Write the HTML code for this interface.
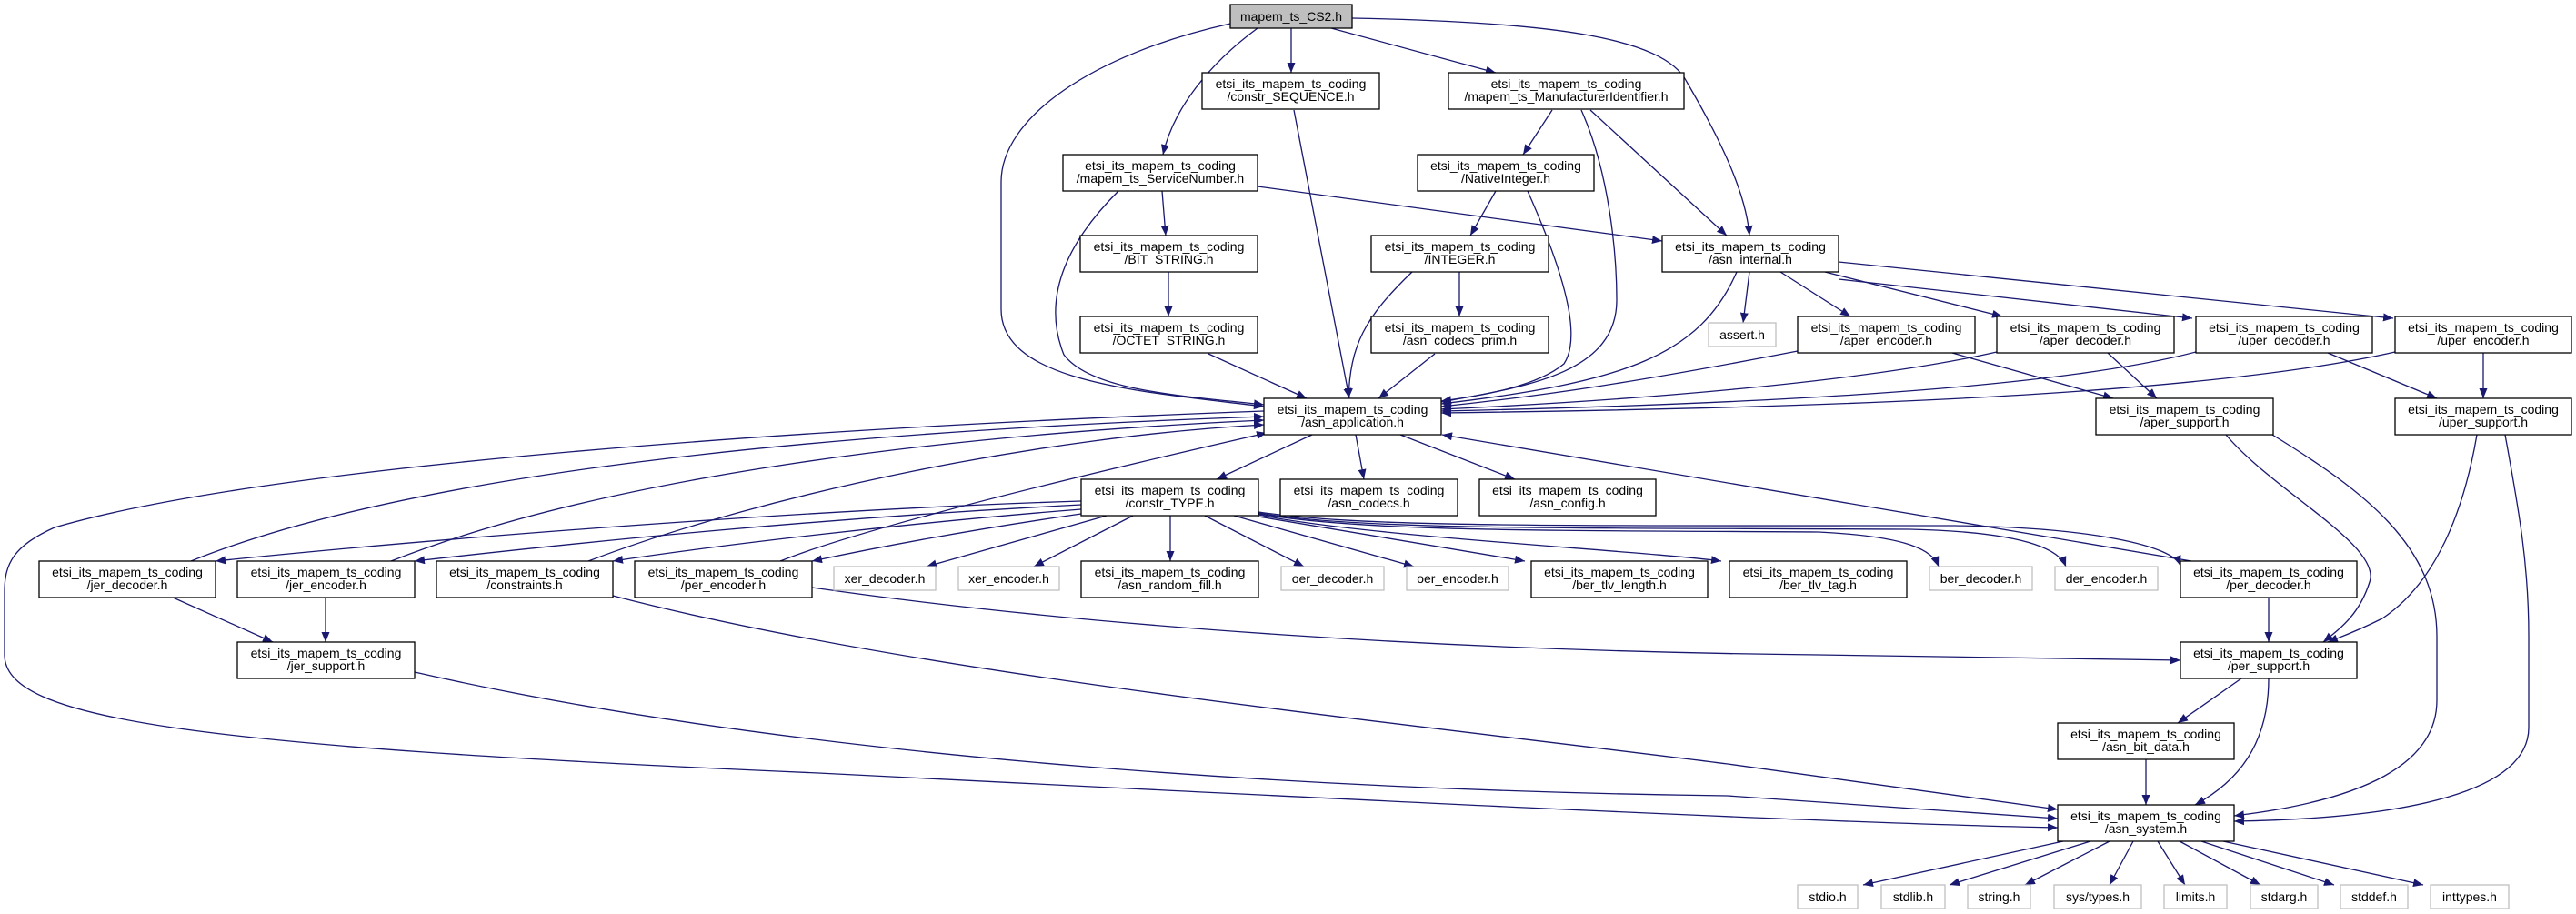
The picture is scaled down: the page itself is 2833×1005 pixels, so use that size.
<!DOCTYPE html>
<html><head><meta charset="utf-8"><style>
html,body{margin:0;padding:0;background:#fff;}
svg{display:block;}
text{font-family:"Liberation Sans",sans-serif;font-size:14px;fill:#000;text-anchor:middle;}
.n{fill:#fff;stroke:#000;stroke-width:1.3;}
.g{fill:#fff;stroke:#c0c0c0;stroke-width:1.3;}
.e{fill:none;stroke:#191970;stroke-width:1.3;marker-end:url(#a);}
</style></head><body>
<svg width="2833" height="1005" viewBox="0 0 2833 1005" xmlns="http://www.w3.org/2000/svg">
<defs><marker id="a" markerUnits="userSpaceOnUse" markerWidth="12" markerHeight="9" refX="11" refY="4.5" orient="auto"><path d="M0,0 L11,4.5 L0,9 z" fill="#191970"/></marker></defs>
<g>
<path class="e" d="M1420,31 L1420,80"/>
<path class="e" d="M1383,31 C1330,70 1290,120 1279,170"/>
<path class="e" d="M1464,31 L1645,80"/>
<path class="e" d="M1487,20 C1700,24 1830,40 1855,90 C1890,150 1920,210 1924,259"/>
<path class="e" d="M1353,26 C1200,60 1101,130 1101,200 L1101,340 C1101,420 1250,430 1390,447"/>
<path class="e" d="M1423,121 L1484,438"/>
<path class="e" d="M1278,210 L1282,259"/>
<path class="e" d="M1383,205 L1828,265"/>
<path class="e" d="M1230,210 C1160,280 1150,340 1170,390 C1200,430 1300,435 1390,445"/>
<path class="e" d="M1285,299 L1285,348"/>
<path class="e" d="M1329,389 L1437,438"/>
<path class="e" d="M1707,121 L1675,170"/>
<path class="e" d="M1749,121 L1899,259"/>
<path class="e" d="M1739,121 C1770,190 1778,280 1778,330 C1778,410 1680,425 1585,442"/>
<path class="e" d="M1645,210 L1617,259"/>
<path class="e" d="M1680,210 C1720,300 1740,370 1720,400 C1690,425 1630,435 1585,441"/>
<path class="e" d="M1605,299 L1605,348"/>
<path class="e" d="M1553,299 C1500,350 1485,380 1483,438"/>
<path class="e" d="M1578,389 L1516,438"/>
<path class="e" d="M1924,299 L1917,355"/>
<path class="e" d="M1958,299 L2035,348"/>
<path class="e" d="M2007,299 L2202,348"/>
<path class="e" d="M2022,307 L2411,350"/>
<path class="e" d="M2022,288 L2632,350"/>
<path class="e" d="M1910,299 C1870,390 1790,420 1585,444"/>
<path class="e" d="M1977,386 C1800,420 1700,435 1585,447"/>
<path class="e" d="M2196,387 C2050,420 1800,440 1585,450"/>
<path class="e" d="M2415,387 C2250,430 1900,445 1585,452"/>
<path class="e" d="M2634,387 C2400,440 1900,450 1585,454"/>
<path class="e" d="M2147,388 L2324,438"/>
<path class="e" d="M2318,388 L2372,438"/>
<path class="e" d="M2560,388 L2680,438"/>
<path class="e" d="M2731,388 L2731,438"/>
<path class="e" d="M2448,478 C2500,540 2620,600 2606,640 C2595,675 2575,690 2555,706"/>
<path class="e" d="M2499,478 C2600,540 2680,600 2680,700 L2680,770 C2680,840 2600,880 2457,897"/>
<path class="e" d="M2724,478 C2710,560 2680,640 2620,680 C2590,695 2575,700 2560,706"/>
<path class="e" d="M2755,478 C2770,560 2781,620 2781,700 L2781,800 C2781,870 2650,900 2457,903"/>
<path class="e" d="M1443,478 L1338,527"/>
<path class="e" d="M1491,478 L1500,527"/>
<path class="e" d="M1540,478 L1666,527"/>
<path class="e" d="M1217,567 L1019,623"/>
<path class="e" d="M1246,567 L1137,623"/>
<path class="e" d="M1287,567 L1287,617"/>
<path class="e" d="M1325,567 L1434,623"/>
<path class="e" d="M1357,567 L1555,623"/>
<path class="e" d="M1384,568 L1677,617"/>
<path class="e" d="M1384,566 C1500,590 1800,605 1893,617"/>
<path class="e" d="M1384,565 C1500,585 1700,583 2000,585 C2100,590 2125,605 2132,623"/>
<path class="e" d="M1384,564 C1500,583 1700,580 2100,582 C2230,585 2265,605 2272,623"/>
<path class="e" d="M1384,563 C1500,580 1700,578 2150,578 C2300,580 2390,600 2398,622"/>
<path class="e" d="M1189,551 C900,560 500,590 237,617"/>
<path class="e" d="M1189,555 C900,570 650,595 456,617"/>
<path class="e" d="M1189,560 C1000,575 800,598 674,617"/>
<path class="e" d="M1189,565 C1050,585 950,605 893,617"/>
<path class="e" d="M210,617 C450,520 900,475 1390,458"/>
<path class="e" d="M430,617 C650,530 1000,480 1390,462"/>
<path class="e" d="M647,617 C850,540 1150,480 1390,467"/>
<path class="e" d="M858,617 C950,580 1200,520 1393,476"/>
<path class="e" d="M2410,617 L1586,478"/>
<path class="e" d="M1390,452 C900,470 300,510 60,580 C15,600 5,620 5,650 L5,720 C5,790 200,820 900,850 C1500,880 2000,905 2263,910"/>
<path class="e" d="M893,646 C1200,690 1600,716 2000,720 L2398,726"/>
<path class="e" d="M674,655 C1000,740 1500,790 1900,840 L2263,890"/>
<path class="e" d="M456,739 C900,840 1500,870 1900,875 L2263,900"/>
<path class="e" d="M188,656 L300,706"/>
<path class="e" d="M358,656 L358,706"/>
<path class="e" d="M2495,657 L2495,706"/>
<path class="e" d="M2465,746 L2395,795"/>
<path class="e" d="M2495,746 C2495,820 2460,860 2414,885"/>
<path class="e" d="M2360,835 L2360,885"/>
<path class="e" d="M2269,925 L2049,973"/>
<path class="e" d="M2299,925 L2144,973"/>
<path class="e" d="M2320,925 L2227,973"/>
<path class="e" d="M2346,925 L2320,973"/>
<path class="e" d="M2373,925 L2403,973"/>
<path class="e" d="M2397,925 L2486,973"/>
<path class="e" d="M2421,925 L2567,973"/>
<path class="e" d="M2445,925 L2665,973"/>
</g>
<g>
<rect x="1353" y="5" width="134" height="26" fill="#bfbfbf" stroke="#000" stroke-width="1.3"/><text x="1420" y="23">mapem_ts_CS2.h</text>

<rect class="n" x="1322" y="80" width="195" height="40"/><text x="1419.5" y="97">etsi_its_mapem_ts_coding</text><text x="1419.5" y="111">/constr_SEQUENCE.h</text>
<rect class="n" x="1593" y="80" width="259" height="40"/><text x="1722.5" y="97">etsi_its_mapem_ts_coding</text><text x="1722.5" y="111">/mapem_ts_ManufacturerIdentifier.h</text>
<rect class="n" x="1169" y="170" width="214" height="40"/><text x="1276" y="187">etsi_its_mapem_ts_coding</text><text x="1276" y="201">/mapem_ts_ServiceNumber.h</text>
<rect class="n" x="1559" y="170" width="194" height="40"/><text x="1656" y="187">etsi_its_mapem_ts_coding</text><text x="1656" y="201">/NativeInteger.h</text>
<rect class="n" x="1188" y="259" width="195" height="40"/><text x="1285.5" y="276">etsi_its_mapem_ts_coding</text><text x="1285.5" y="290">/BIT_STRING.h</text>
<rect class="n" x="1508" y="259" width="195" height="40"/><text x="1605.5" y="276">etsi_its_mapem_ts_coding</text><text x="1605.5" y="290">/INTEGER.h</text>
<rect class="n" x="1828" y="259" width="194" height="40"/><text x="1925" y="276">etsi_its_mapem_ts_coding</text><text x="1925" y="290">/asn_internal.h</text>
<rect class="n" x="1188" y="348" width="195" height="40"/><text x="1285.5" y="365">etsi_its_mapem_ts_coding</text><text x="1285.5" y="379">/OCTET_STRING.h</text>
<rect class="n" x="1508" y="348" width="195" height="40"/><text x="1605.5" y="365">etsi_its_mapem_ts_coding</text><text x="1605.5" y="379">/asn_codecs_prim.h</text>
<rect class="g" x="1879" y="355" width="74" height="26"/><text x="1916" y="373">assert.h</text>
<rect class="n" x="1977" y="348" width="195" height="40"/><text x="2074.5" y="365">etsi_its_mapem_ts_coding</text><text x="2074.5" y="379">/aper_encoder.h</text>
<rect class="n" x="2196" y="348" width="195" height="40"/><text x="2293.5" y="365">etsi_its_mapem_ts_coding</text><text x="2293.5" y="379">/aper_decoder.h</text>
<rect class="n" x="2415" y="348" width="194" height="40"/><text x="2512" y="365">etsi_its_mapem_ts_coding</text><text x="2512" y="379">/uper_decoder.h</text>
<rect class="n" x="2634" y="348" width="194" height="40"/><text x="2731" y="365">etsi_its_mapem_ts_coding</text><text x="2731" y="379">/uper_encoder.h</text>
<rect class="n" x="1390" y="438" width="195" height="40"/><text x="1487.5" y="455">etsi_its_mapem_ts_coding</text><text x="1487.5" y="469">/asn_application.h</text>
<rect class="n" x="2305" y="438" width="195" height="40"/><text x="2402.5" y="455">etsi_its_mapem_ts_coding</text><text x="2402.5" y="469">/aper_support.h</text>
<rect class="n" x="2634" y="438" width="194" height="40"/><text x="2731" y="455">etsi_its_mapem_ts_coding</text><text x="2731" y="469">/uper_support.h</text>
<rect class="n" x="1189" y="527" width="195" height="40"/><text x="1286.5" y="544">etsi_its_mapem_ts_coding</text><text x="1286.5" y="558">/constr_TYPE.h</text>
<rect class="n" x="1408" y="527" width="195" height="40"/><text x="1505.5" y="544">etsi_its_mapem_ts_coding</text><text x="1505.5" y="558">/asn_codecs.h</text>
<rect class="n" x="1627" y="527" width="194" height="40"/><text x="1724" y="544">etsi_its_mapem_ts_coding</text><text x="1724" y="558">/asn_config.h</text>
<rect class="n" x="43" y="617" width="194" height="40"/><text x="140" y="634">etsi_its_mapem_ts_coding</text><text x="140" y="648">/jer_decoder.h</text>
<rect class="n" x="261" y="617" width="195" height="40"/><text x="358.5" y="634">etsi_its_mapem_ts_coding</text><text x="358.5" y="648">/jer_encoder.h</text>
<rect class="n" x="480" y="617" width="194" height="40"/><text x="577" y="634">etsi_its_mapem_ts_coding</text><text x="577" y="648">/constraints.h</text>
<rect class="n" x="698" y="617" width="195" height="40"/><text x="795.5" y="634">etsi_its_mapem_ts_coding</text><text x="795.5" y="648">/per_encoder.h</text>
<rect class="g" x="917" y="623" width="112" height="26"/><text x="973" y="641">xer_decoder.h</text>
<rect class="g" x="1054" y="623" width="111" height="26"/><text x="1109.5" y="641">xer_encoder.h</text>
<rect class="n" x="1189" y="617" width="195" height="40"/><text x="1286.5" y="634">etsi_its_mapem_ts_coding</text><text x="1286.5" y="648">/asn_random_fill.h</text>
<rect class="g" x="1409" y="623" width="113" height="26"/><text x="1465.5" y="641">oer_decoder.h</text>
<rect class="g" x="1547" y="623" width="112" height="26"/><text x="1603" y="641">oer_encoder.h</text>
<rect class="n" x="1684" y="617" width="194" height="40"/><text x="1781" y="634">etsi_its_mapem_ts_coding</text><text x="1781" y="648">/ber_tlv_length.h</text>
<rect class="n" x="1902" y="617" width="195" height="40"/><text x="1999.5" y="634">etsi_its_mapem_ts_coding</text><text x="1999.5" y="648">/ber_tlv_tag.h</text>
<rect class="g" x="2122" y="623" width="113" height="26"/><text x="2178.5" y="641">ber_decoder.h</text>
<rect class="g" x="2260" y="623" width="113" height="26"/><text x="2316.5" y="641">der_encoder.h</text>
<rect class="n" x="2398" y="617" width="194" height="40"/><text x="2495" y="634">etsi_its_mapem_ts_coding</text><text x="2495" y="648">/per_decoder.h</text>
<rect class="n" x="261" y="706" width="195" height="40"/><text x="358.5" y="723">etsi_its_mapem_ts_coding</text><text x="358.5" y="737">/jer_support.h</text>
<rect class="n" x="2398" y="706" width="194" height="40"/><text x="2495" y="723">etsi_its_mapem_ts_coding</text><text x="2495" y="737">/per_support.h</text>
<rect class="n" x="2263" y="795" width="194" height="40"/><text x="2360" y="812">etsi_its_mapem_ts_coding</text><text x="2360" y="826">/asn_bit_data.h</text>
<rect class="n" x="2263" y="885" width="194" height="40"/><text x="2360" y="902">etsi_its_mapem_ts_coding</text><text x="2360" y="916">/asn_system.h</text>
<rect class="g" x="1977" y="973" width="66" height="26"/><text x="2010" y="991">stdio.h</text>
<rect class="g" x="2069" y="973" width="70" height="26"/><text x="2104" y="991">stdlib.h</text>
<rect class="g" x="2164" y="973" width="69" height="26"/><text x="2198.5" y="991">string.h</text>
<rect class="g" x="2259" y="973" width="96" height="26"/><text x="2307" y="991">sys/types.h</text>
<rect class="g" x="2380" y="973" width="69" height="26"/><text x="2414.5" y="991">limits.h</text>
<rect class="g" x="2475" y="973" width="74" height="26"/><text x="2512" y="991">stdarg.h</text>
<rect class="g" x="2574" y="973" width="74" height="26"/><text x="2611" y="991">stddef.h</text>
<rect class="g" x="2673" y="973" width="86" height="26"/><text x="2716" y="991">inttypes.h</text>
</g>
</svg>
</body></html>
